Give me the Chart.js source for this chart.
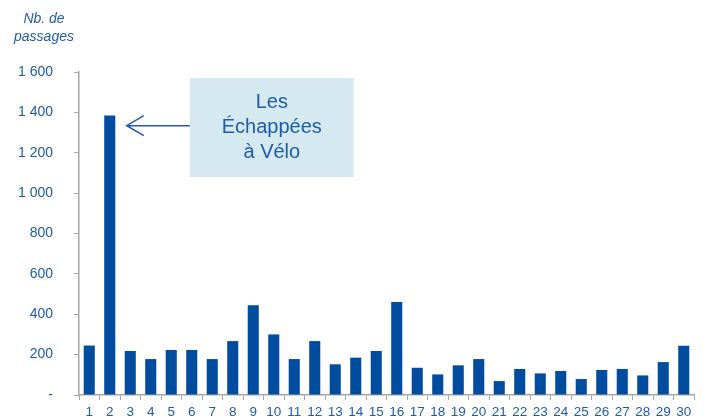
<!DOCTYPE html>
<html>
<head>
<meta charset="utf-8">
<script src="https://cdn.jsdelivr.net/npm/chart.js@4.4.1/dist/chart.umd.min.js"></script>
<style>
  html, body { margin: 0; padding: 0; background: #fff; }
  #wrap { width: 705px; height: 420px; }
</style>
</head>
<body>
<div id="wrap"><canvas id="passages-chart" width="705" height="420"></canvas></div>
<script>
const days = ["1","2","3","4","5","6","7","8","9","10","11","12","13","14","15",
  "16","17","18","19","20","21","22","23","24","25","26","27","28","29","30"];
const passages = [245, 1385, 218, 178, 223, 223, 178, 267, 444, 300, 178, 267, 152, 185, 218,
  461, 135, 102, 147, 178, 69, 129, 107, 119, 79, 124, 129, 97, 163, 244];
const yTicks = [0, 200, 400, 600, 800, 1000, 1200, 1400, 1600];
const titleLines = ["Nb. de", "passages"];
const noteLines = ["Les", "Échappées", "à Vélo"];

const TEXT_BLUE = "#1f5ca8";
const BAR_BLUE = "#004c9e";
const AXIS_GREY = "#a6a6a6";

function formatTick(value) {
  if (value === 0) return "-";
  return String(value).replace(/\B(?=(\d{3})+(?!\d))/g, " ");
}

// axis title and the annotation box with its arrow
const extras = {
  id: "extras",
  afterDraw(chart) {
    const ctx = chart.ctx;
    const x = chart.scales.x;
    const y = chart.scales.y;
    ctx.save();

    ctx.fillStyle = TEXT_BLUE;
    ctx.font = "italic 14px 'Liberation Sans', Arial, sans-serif";
    ctx.textAlign = "center";
    ctx.textBaseline = "middle";
    ctx.fillText(titleLines[0], 44, 19);
    ctx.fillText(titleLines[1], 44, 37);

    // box placed in data space: between ~day 5.9 and 13.9, 1080..1570
    const left = x.getPixelForValue(4.91);
    const right = x.getPixelForValue(12.9);
    const top = y.getPixelForValue(1570);
    const bottom = y.getPixelForValue(1080);
    ctx.fillStyle = "#d4eaf0";
    ctx.fillRect(left, top, right - left, bottom - top);

    ctx.fillStyle = TEXT_BLUE;
    ctx.font = "20px 'Liberation Sans', Arial, sans-serif";
    const cx = (left + right) / 2;
    const cy = (top + bottom) / 2;
    ctx.fillText(noteLines[0], cx, cy - 25);
    ctx.fillText(noteLines[1], cx, cy);
    ctx.fillText(noteLines[2], cx, cy + 25);

    // arrow pointing at bar 2
    const ay = y.getPixelForValue(1334);
    const tip = x.getPixelForValue(1) + 17;
    ctx.strokeStyle = "#1f5ca8";
    ctx.lineWidth = 1.5;
    ctx.beginPath();
    ctx.moveTo(left, ay);
    ctx.lineTo(tip, ay);
    ctx.moveTo(tip + 17, ay - 10);
    ctx.lineTo(tip, ay);
    ctx.lineTo(tip + 17, ay + 10);
    ctx.stroke();

    ctx.restore();
  }
};

function renderChart() {
  const ctx = document.getElementById("passages-chart").getContext("2d");
  window.myChart = new Chart(ctx, {
    type: "bar",
    data: {
      labels: days,
      datasets: [{
        label: "Nb. de passages",
        data: passages,
        backgroundColor: BAR_BLUE,
        borderWidth: 0,
        categoryPercentage: 1,
        barPercentage: 0.54
      }]
    },
    options: {
      responsive: false,
      animation: false,
      layout: { padding: { top: 72, right: 11, left: 0, bottom: 0 } },
      plugins: {
        legend: { display: false },
        tooltip: { enabled: false }
      },
      scales: {
        x: {
          grid: {
            drawOnChartArea: false,
            color: AXIS_GREY,
            tickLength: 5,
            offset: true
          },
          border: { color: AXIS_GREY, width: 1.5 },
          ticks: {
            color: TEXT_BLUE,
            font: { family: "'Liberation Sans', Arial, sans-serif", size: 13.5 },
            autoSkip: false,
            maxRotation: 0,
            padding: 4
          },
          afterFit(scale) { scale.height = 25; }
        },
        y: {
          min: 0,
          max: 1600,
          afterBuildTicks(scale) { scale.ticks = yTicks.map(v => ({ value: v })); },
          grid: {
            drawOnChartArea: false,
            color: AXIS_GREY,
            tickLength: 5
          },
          border: { color: AXIS_GREY, width: 1.5 },
          ticks: {
            color: TEXT_BLUE,
            font: { family: "'Liberation Sans', Arial, sans-serif", size: 14 },
            padding: 21,
            callback: formatTick
          },
          afterFit(scale) {
            // tick padding is also added above/below, drop it
            scale.width = 79;
            scale.paddingTop = 8;
            scale.paddingBottom = 8;
          }
        }
      }
    },
    plugins: [extras]
  });
}

document.addEventListener("DOMContentLoaded", renderChart);
</script>
</body>
</html>
